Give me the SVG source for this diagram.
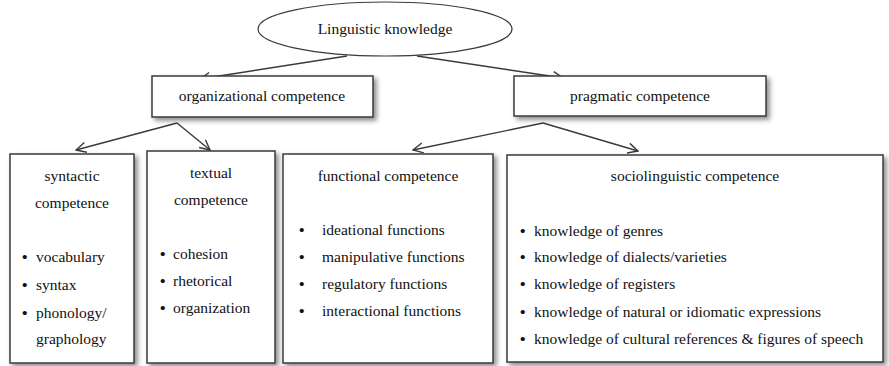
<svg xmlns="http://www.w3.org/2000/svg" width="889" height="366" viewBox="0 0 889 366">
<style>
.box{fill:#fff;stroke:#3a3a3a;stroke-width:1.5;filter:url(#sh)}
.t{font-family:'Liberation Serif','Times New Roman','DejaVu Serif',serif;font-size:15.5px;fill:#111}
.b{font-weight:bold}
.c{text-anchor:middle}
.ln{fill:none;stroke:#3a3a3a;stroke-width:1.4;marker-end:url(#ah)}
</style>
<defs>
<filter id="sh" x="-10%" y="-10%" width="130%" height="140%">
<feDropShadow dx="3" dy="3" stdDeviation="2.5" flood-color="#000" flood-opacity="0.45"/>
</filter>
<marker id="ah" viewBox="0 0 12 12" refX="11" refY="6" markerWidth="12" markerHeight="12" markerUnits="userSpaceOnUse" orient="auto">
<polyline points="1,1 11,6 1,11" fill="none" stroke="#3a3a3a" stroke-width="1.4"/>
</marker>
</defs>
<g id="connectors">
<line class="ln" x1="347" y1="56" x2="200" y2="79"/>
<line class="ln" x1="417" y1="56" x2="563" y2="78"/>
<polyline points="177,123 76,150" class="ln"/>
<polyline points="177,123 210,150" class="ln"/>
<polyline points="543,123 413,150" class="ln"/>
<polyline points="543,123 638,151" class="ln"/>
</g>
<g id="linguistic">
<ellipse cx="385" cy="29" rx="127" ry="27" fill="#fff" stroke="#3a3a3a" stroke-width="1.2"/>
<text class="t c" x="385" y="34">Linguistic knowledge</text>
</g>
<g id="organizational">
<rect class="box" x="152" y="76" width="221" height="41"/>
<text class="t c" x="262" y="101">organizational competence</text>
</g>
<g id="pragmatic">
<rect class="box" x="514" y="76" width="252" height="40"/>
<text class="t c" x="640" y="101">pragmatic competence</text>
</g>
<g id="syntactic">
<rect class="box" x="10" y="154" width="124" height="209"/>
<text class="t c" x="72" y="181">syntactic</text>
<text class="t c" x="72" y="208">competence</text>
<text class="t b" x="22" y="262">•</text><text class="t" x="36" y="262">vocabulary</text>
<text class="t b" x="22" y="290">•</text><text class="t" x="36" y="290">syntax</text>
<text class="t b" x="22" y="318">•</text><text class="t" x="36" y="318">phonology/</text>
<text class="t" x="36" y="344">graphology</text>
</g>
<g id="textual">
<rect class="box" x="147" y="151" width="128" height="212"/>
<text class="t c" x="211" y="178">textual</text>
<text class="t c" x="211" y="205">competence</text>
<text class="t b" x="160" y="259">•</text><text class="t" x="173" y="259">cohesion</text>
<text class="t b" x="160" y="286">•</text><text class="t" x="173" y="286">rhetorical</text>
<text class="t b" x="160" y="313">•</text><text class="t" x="173" y="313">organization</text>
</g>
<g id="functional">
<rect class="box" x="283" y="154" width="210" height="209"/>
<text class="t c" x="388" y="181">functional competence</text>
<text class="t b" x="299" y="235">•</text><text class="t" x="322" y="235">ideational functions</text>
<text class="t b" x="299" y="262">•</text><text class="t" x="322" y="262">manipulative functions</text>
<text class="t b" x="299" y="289">•</text><text class="t" x="322" y="289">regulatory functions</text>
<text class="t b" x="299" y="316">•</text><text class="t" x="322" y="316">interactional functions</text>
</g>
<g id="sociolinguistic">
<rect class="box" x="507" y="155" width="376" height="207"/>
<text class="t c" x="695" y="181">sociolinguistic competence</text>
<text class="t b" x="520" y="236">•</text><text class="t" x="534" y="236">knowledge of genres</text>
<text class="t b" x="520" y="262">•</text><text class="t" x="534" y="262">knowledge of dialects/varieties</text>
<text class="t b" x="520" y="289">•</text><text class="t" x="534" y="289">knowledge of registers</text>
<text class="t b" x="520" y="317">•</text><text class="t" x="534" y="317">knowledge of natural or idiomatic expressions</text>
<text class="t b" x="520" y="344">•</text><text class="t" x="534" y="344">knowledge of cultural references &amp; figures of speech</text>
</g>
</svg>
